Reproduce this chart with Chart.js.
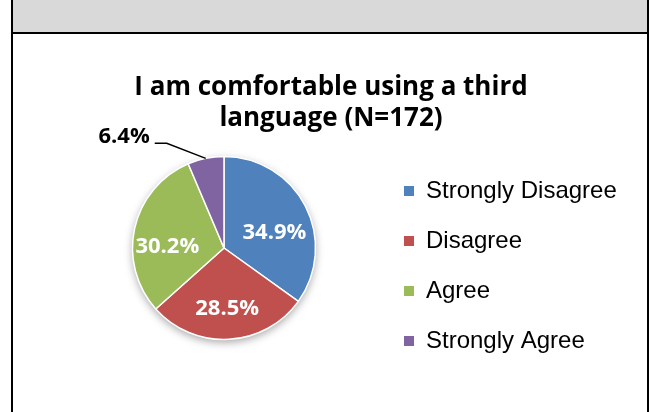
<!DOCTYPE html>
<html>
<head>
<meta charset="utf-8">
<script src="https://cdn.jsdelivr.net/npm/chart.js@4.4.1/dist/chart.umd.min.js"></script>
<style>
  html, body { margin: 0; padding: 0; background: #fff; }
  body { width: 650px; height: 412px; position: relative; overflow: hidden; }
  .cabecera { position: absolute; left: 13px; top: 0; width: 634px; height: 32px; background: #d9d9d9; }
  .linea { position: absolute; background: #000; }
  #myChart { position: absolute; left: 0; top: 0; }
</style>
</head>
<body>
<div class="cabecera"></div>
<div class="linea" style="left:11px;top:0;width:2px;height:412px"></div>
<div class="linea" style="left:647px;top:0;width:2px;height:412px"></div>
<div class="linea" style="left:11px;top:32px;width:638px;height:2px"></div>
<canvas id="myChart" width="650" height="412"></canvas>
<script>
const categorias = ["Strongly Disagree", "Disagree", "Agree", "Strongly Agree"];
const porcentajes = [34.9, 28.5, 30.2, 6.4];
const colores = ["#4f81bd", "#c0504d", "#9bbb59", "#8064a2"];
const titulo = ["I am comfortable using a third", "language (N=172)"];

// colocacion de cada etiqueta: giro (grados) y distancia relativa al radio
const giroEtiqueta = [9, 0, -10, 0];
const radioEtiqueta = [0.58, 0.65, 0.62, 0];
const etiquetaFuera = [false, false, false, true];

// sombra suave debajo del pastel
const sombra = {
  id: "sombra",
  beforeDatasetsDraw(chart) {
    const arc = chart.getDatasetMeta(0).data[0];
    if (!arc) return;
    const p = arc.getProps(["x", "y", "outerRadius"], true);
    const ctx = chart.ctx;
    ctx.save();
    ctx.shadowColor = "rgba(0,0,0,0.35)";
    ctx.shadowBlur = 8;
    ctx.shadowOffsetY = 3;
    ctx.fillStyle = "#e8e8e8";
    ctx.beginPath();
    ctx.arc(p.x, p.y, p.outerRadius, 0, Math.PI * 2);
    ctx.fill();
    ctx.restore();
  }
};

// porcentajes encima de cada porcion (el pequeño va fuera con linea guia)
const etiquetas = {
  id: "etiquetas",
  afterDatasetsDraw(chart) {
    const ctx = chart.ctx;
    const meta = chart.getDatasetMeta(0);
    ctx.save();
    ctx.font = "bold 22px 'Open Sans'";
    ctx.textBaseline = "middle";
    meta.data.forEach((arc, i) => {
      const p = arc.getProps(["x", "y", "startAngle", "endAngle", "outerRadius"], true);
      const medio = (p.startAngle + p.endAngle) / 2;
      const texto = porcentajes[i].toFixed(1) + "%";
      if (!etiquetaFuera[i]) {
        const a = medio + giroEtiqueta[i] * Math.PI / 180;
        const r = p.outerRadius * radioEtiqueta[i];
        ctx.fillStyle = "#fff";
        ctx.textAlign = "center";
        ctx.fillText(texto, p.x + Math.cos(a) * r, p.y + Math.sin(a) * r + 1.5);
      } else {
        const x0 = p.x + Math.cos(medio) * p.outerRadius;
        const y0 = p.y + Math.sin(medio) * p.outerRadius;
        const x1 = x0 - 39;
        const y1 = y0 - 15;
        const x2 = x1 - 12;
        ctx.strokeStyle = "#000";
        ctx.lineWidth = 1.5;
        ctx.beginPath();
        ctx.moveTo(x0, y0);
        ctx.lineTo(x1, y1);
        ctx.lineTo(x2, y1);
        ctx.stroke();
        ctx.fillStyle = "#000";
        ctx.textAlign = "right";
        ctx.fillText(texto, x2 - 5, y1 - 6.5);
      }
    });
    ctx.restore();
  }
};

function crearGrafica() {
  const ctx = document.getElementById("myChart").getContext("2d");

  new Chart(ctx, {
    type: "pie",
    data: {
      labels: categorias,
      datasets: [
        {
          data: porcentajes,
          backgroundColor: colores,
          borderColor: "#ffffff",
          borderWidth: 1.5,
          radius: 91.5,
        },
      ],
    },
    options: {
      responsive: false,
      animation: false,
      events: [],
      layout: {
        padding: { left: 44, right: 32, top: 0, bottom: 51 },
      },
      plugins: {
        title: {
          display: true,
          text: titulo,
          color: "#000",
          font: { family: "'Open Sans'", size: 26, weight: "bold", lineHeight: 1.2 },
          padding: { top: 72.1, bottom: 0.5 },
        },
        legend: {
          position: "right",
          align: "start",
          maxWidth: 214,
          title: {
            display: true,
            text: "",
            font: { size: 12, lineHeight: 1.2 },
            padding: { top: 164.6, bottom: 0 },
          },
          labels: {
            color: "#000",
            // lineHeight = separacion entre filas de la leyenda
            font: { family: "'Liberation Sans', Arial", size: 24, lineHeight: 50 / 24 },
            boxWidth: 10,
            boxHeight: 10,
            padding: 0,
            generateLabels(chart) {
              const items = Chart.overrides.pie.plugins.legend.labels.generateLabels(chart);
              return items.map((it) => ({
                ...it,
                text: [it.text],
                strokeStyle: it.fillStyle,
                lineWidth: 0,
              }));
            },
          },
        },
        tooltip: { enabled: false },
      },
    },
    plugins: [sombra, etiquetas],
  });
}

crearGrafica();
</script>
</body>
</html>
